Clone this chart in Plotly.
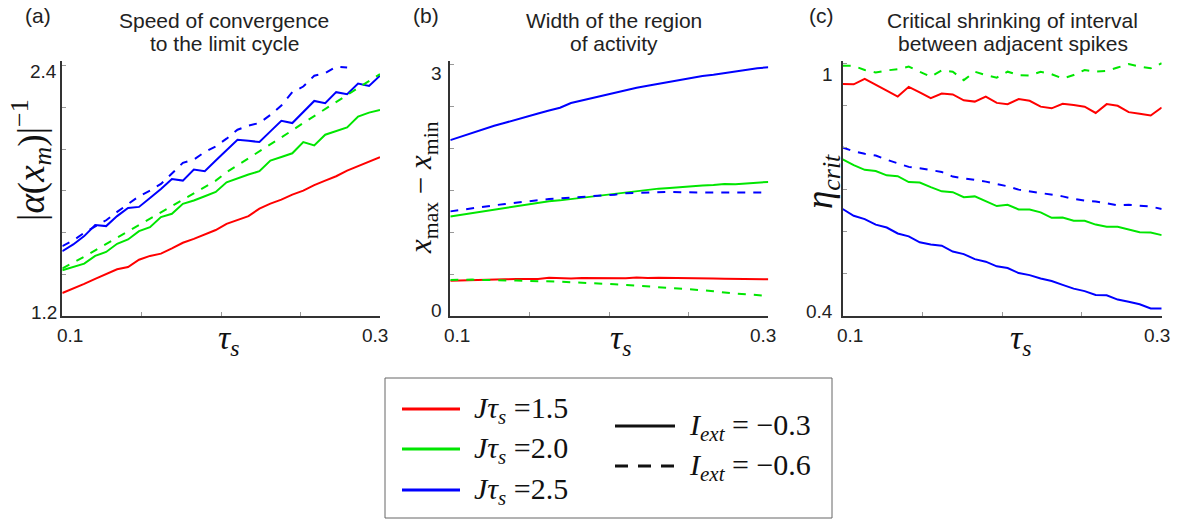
import plotly.graph_objects as go

W, H = 1178, 519

# ---------------- data ----------------
tau_s = [0.1000, 0.1069, 0.1138, 0.1207, 0.1276, 0.1345, 0.1414, 0.1483, 0.1552, 0.1621,
         0.1690, 0.1759, 0.1828, 0.1897, 0.1966, 0.2034, 0.2103, 0.2172, 0.2241, 0.2310,
         0.2379, 0.2448, 0.2517, 0.2586, 0.2655, 0.2724, 0.2793, 0.2862, 0.2931, 0.3000]

# (a) speed of convergence |alpha(x_m)|^-1
a_red_solid = [1.310, 1.331, 1.354, 1.378, 1.402, 1.424, 1.435, 1.470, 1.488, 1.499,
               1.524, 1.551, 1.570, 1.591, 1.612, 1.642, 1.661, 1.679, 1.715, 1.739,
               1.758, 1.782, 1.801, 1.827, 1.849, 1.870, 1.897, 1.918, 1.941, 1.961]
a_green_solid = [1.419, 1.435, 1.451, 1.488, 1.507, 1.546, 1.567, 1.607, 1.626, 1.674,
                 1.690, 1.738, 1.754, 1.774, 1.795, 1.841, 1.860, 1.878, 1.894, 1.945,
                 1.962, 1.980, 2.034, 2.018, 2.069, 2.088, 2.104, 2.156, 2.175, 2.188]
a_green_dash = [1.428, 1.454, 1.484, 1.515, 1.545, 1.575, 1.605, 1.636, 1.668, 1.698,
                1.728, 1.757, 1.789, 1.819, 1.849, 1.889, 1.922, 1.956, 1.989, 2.024,
                2.058, 2.090, 2.125, 2.158, 2.192, 2.225, 2.258, 2.292, 2.327, 2.360]
a_blue_solid = [1.511, 1.543, 1.583, 1.636, 1.631, 1.679, 1.718, 1.723, 1.766, 1.809,
                1.857, 1.849, 1.902, 1.894, 1.945, 1.994, 2.045, 2.040, 2.034, 2.085,
                2.136, 2.125, 2.180, 2.231, 2.220, 2.273, 2.263, 2.314, 2.303, 2.352]
a_blue_dash = [1.535, 1.562, 1.599, 1.631, 1.659, 1.699, 1.738, 1.774, 1.801, 1.833,
               1.883, 1.934, 1.950, 1.986, 2.013, 2.050, 2.093, 2.113, 2.125, 2.164,
               2.209, 2.273, 2.300, 2.352, 2.364, 2.395, 2.391, None, None, None]

# (b) width of the region of activity x_max - x_min
b_red_solid = [0.420, 0.425, 0.430, 0.432, 0.435, 0.437, 0.440, 0.442, 0.442, 0.455,
               0.450, 0.447, 0.452, 0.450, 0.455, 0.452, 0.449, 0.460, 0.452, 0.455,
               0.455, 0.448, 0.447, 0.452, 0.448, 0.444, 0.442, 0.438, 0.438, 0.438]
b_green_solid = [1.187, 1.207, 1.227, 1.247, 1.267, 1.287, 1.307, 1.327, 1.347, 1.367,
                 1.378, 1.394, 1.410, 1.426, 1.442, 1.458, 1.474, 1.494, 1.506, 1.518,
                 1.526, 1.538, 1.546, 1.554, 1.562, 1.574, 1.570, 1.578, 1.590, 1.598]
b_green_dash = [0.430, 0.434, 0.434, 0.430, 0.430, 0.426, 0.422, 0.418, 0.418, 0.414,
                0.410, 0.402, 0.398, 0.390, 0.386, 0.378, 0.371, 0.363, 0.355, 0.347,
                0.335, 0.323, 0.315, 0.307, 0.295, 0.279, 0.267, 0.259, 0.251, 0.239]
b_blue_solid = [2.096, 2.139, 2.183, 2.227, 2.267, 2.303, 2.343, 2.378, 2.414, 2.450,
                2.482, 2.538, 2.570, 2.602, 2.629, 2.661, 2.689, 2.721, 2.745, 2.769,
                2.793, 2.813, 2.841, 2.861, 2.876, 2.896, 2.920, 2.932, 2.952, 2.964]
b_blue_dash = [1.247, 1.267, 1.287, 1.303, 1.319, 1.335, 1.351, 1.367, 1.382, 1.394,
               1.402, 1.410, 1.418, 1.430, 1.442, 1.446, 1.462, 1.466, 1.466, 1.478,
               1.478, 1.474, 1.474, 1.470, 1.478, 1.474, 1.474, 1.474, 1.474, 1.470]

# (c) critical shrinking eta_crit
c_red_solid = [0.951, 0.950, 0.963, 0.948, 0.935, 0.921, 0.944, 0.931, 0.917, 0.928,
               0.926, 0.912, 0.909, 0.921, 0.906, 0.903, 0.915, 0.911, 0.897, 0.893,
               0.904, 0.901, 0.897, 0.882, 0.903, 0.899, 0.884, 0.880, 0.876, 0.895]
c_green_solid = [0.772, 0.758, 0.747, 0.744, 0.734, 0.732, 0.718, 0.717, 0.706, 0.696,
                 0.694, 0.682, 0.684, 0.673, 0.661, 0.664, 0.653, 0.653, 0.646, 0.633,
                 0.634, 0.626, 0.626, 0.617, 0.612, 0.612, 0.605, 0.599, 0.598, 0.592]
c_green_dash = [0.994, 0.994, 0.984, 0.978, 0.983, 0.986, 0.992, 0.980, 0.968, 0.983,
                0.980, 0.960, 0.980, 0.972, 0.966, 0.980, 0.972, 0.971, 0.980, 0.974,
                0.964, 0.972, 0.984, 0.980, 0.982, 0.990, 0.998, 0.992, 0.988, 1.000]
c_blue_solid = [0.654, 0.638, 0.630, 0.617, 0.610, 0.596, 0.589, 0.575, 0.570, 0.567,
                0.553, 0.547, 0.535, 0.529, 0.518, 0.514, 0.502, 0.497, 0.489, 0.483,
                0.474, 0.465, 0.459, 0.450, 0.449, 0.439, 0.434, 0.428, 0.418, 0.418]
c_blue_dash = [0.800, 0.791, 0.785, 0.781, 0.771, 0.762, 0.754, 0.751, 0.747, 0.742,
               0.731, 0.727, 0.723, 0.719, 0.713, 0.708, 0.700, 0.696, 0.691, 0.687,
               0.684, 0.678, 0.674, 0.672, 0.668, 0.663, 0.664, 0.662, 0.660, 0.654]

x_ticks = [0.1, 0.15, 0.2, 0.25, 0.3]
a_yticks = [1.2, 1.4, 1.6, 1.8, 2.0, 2.2, 2.4]
b_yticks = [0, 0.5, 1.0, 1.5, 2.0, 2.5, 3.0]
c_yticks = [0.4, 0.5, 0.6, 0.7, 0.8, 0.9, 1.0]

legend_J = ["1.5", "2.0", "2.5"]
legend_I = ["−0.3", "−0.6"]

RED = "rgb(255,0,0)"
GREEN = "rgb(0,230,0)"
BLUE = "rgb(0,0,255)"
DASH = "8px,8px"

SANS = "Liberation Sans, Arial, sans-serif"
SERIF = "Liberation Serif, Times New Roman, serif"
TXT = "#222"

fig = go.Figure()

panels = [
    ("x", "y", [(a_red_solid, RED, "solid"), (a_green_solid, GREEN, "solid"), (a_blue_solid, BLUE, "solid"),
                (a_green_dash, GREEN, DASH), (a_blue_dash, BLUE, DASH)]),
    ("x2", "y2", [(b_red_solid, RED, "solid"), (b_green_solid, GREEN, "solid"), (b_blue_solid, BLUE, "solid"),
                  (b_green_dash, GREEN, DASH), (b_blue_dash, BLUE, DASH)]),
    ("x3", "y3", [(c_red_solid, RED, "solid"), (c_green_solid, GREEN, "solid"), (c_blue_solid, BLUE, "solid"),
                  (c_green_dash, GREEN, DASH), (c_blue_dash, BLUE, DASH)]),
]
for xa, ya, series in panels:
    for vals, col, dash in series:
        fig.add_trace(go.Scatter(x=tau_s, y=vals, mode="lines", xaxis=xa, yaxis=ya,
                                 line=dict(color=col, width=2, dash=dash),
                                 connectgaps=False, showlegend=False, hoverinfo="skip"))

TOP, BOT = 61, 316
ydom = [1 - BOT / H, 1 - TOP / H]


def xax(l, r, anchor):
    return dict(domain=[l / W, r / W], range=[0.1, 0.3], anchor=anchor,
                showline=True, linecolor="#333", linewidth=2, mirror=False,
                ticks="inside", ticklen=4, tickwidth=1, tickcolor="#999",
                tickvals=x_ticks, showticklabels=False, showgrid=False, zeroline=False)


def yax(rng, tv, anchor):
    return dict(domain=ydom, range=rng, anchor=anchor,
                showline=True, linecolor="#333", linewidth=2, mirror=False,
                ticks="inside", ticklen=4, tickwidth=1, tickcolor="#999",
                tickvals=tv, showticklabels=False, showgrid=False, zeroline=False)


fig.update_layout(
    width=W, height=H, margin=dict(l=0, r=0, t=0, b=0),
    paper_bgcolor="white", plot_bgcolor="white", showlegend=False,
    xaxis=xax(62.3, 380, "y"), yaxis=yax([1.2, 2.4224], a_yticks, "x"),
    xaxis2=xax(450.3, 768.3, "y2"), yaxis2=yax([0, 3.039], b_yticks, "x2"),
    xaxis3=xax(842.7, 1161.7, "y3"), yaxis3=yax([0.4, 1.0054], c_yticks, "x3"),
)


def ann(text, px, py, size, family=SANS, xanchor="center", yanchor="middle", angle=0, color=TXT):
    fig.add_annotation(text=text, x=px / W, y=1 - py / H, xref="paper", yref="paper",
                       showarrow=False, xanchor=xanchor, yanchor=yanchor, textangle=angle,
                       font=dict(size=size, family=family, color=color), borderpad=0)


# tick labels
TL = 19
for txt, rx, cy in [("2.4", 58, 72), ("1.2", 58, 312), ("3", 443, 73.5), ("0", 443, 310),
                    ("1", 834, 75), ("0.4", 834, 311.5)]:
    ann(txt, rx, cy, TL, xanchor="right")
for txt, cx in [("0.1", 70), ("0.3", 375), ("0.1", 457.5), ("0.3", 762.5), ("0.1", 850), ("0.3", 1156.7)]:
    ann(txt, cx, 335, TL)

# panel letters
for txt, cx in [("(a)", 37.5), ("(b)", 426), ("(c)", 821)]:
    ann(txt, cx, 15, 21)

# titles
TT = 21
ann("Speed of convergence", 224, 20.5, TT)
ann("to the limit cycle", 224, 43.5, TT)
ann("Width of the region", 614, 20.5, TT)
ann("of activity", 614, 43.5, TT)
ann("Critical shrinking of interval", 1012.5, 20.5, TT)
ann("between adjacent spikes", 1012.5, 43.5, TT)

# axis titles
tau_lbl = "<i>τ</i><sub><i>s</i></sub>"
for cx in [228, 620, 1020]:
    ann(tau_lbl, cx, 340, 34, family=SERIF, color="#111")
ann("|<i>α</i>(<i>x</i><sub><i>m</i></sub>)|<sup>−1</sup>", 31, 160, 37, family=SERIF, angle=-90, color="#111")
ann("<i>x</i><sub>max</sub> − <i>x</i><sub>min</sub>", 423, 188, 31, family=SERIF, angle=-90, color="#111")
ann("<i>η</i><sub><i>crit</i></sub>", 822, 182, 37, family=SERIF, angle=-90, color="#111")

# legend (key box)
fig.add_shape(type="rect", xref="paper", yref="paper", x0=385 / W, x1=832 / W,
              y0=1 - 518 / H, y1=1 - 378 / H, line=dict(color="#666", width=1), fillcolor="rgba(0,0,0,0)")
for (val, col), py in zip(zip(legend_J, [RED, GREEN, BLUE]), [409, 449, 490]):
    fig.add_shape(type="line", xref="paper", yref="paper", x0=402 / W, x1=460 / W,
                  y0=1 - py / H, y1=1 - py / H, line=dict(color=col, width=3))
    ann("<i>Jτ</i><sub><i>s</i></sub> =" + val, 473, py + 1, 30, family=SERIF, xanchor="left", color="#111")
for (val, dash), py in zip(zip(legend_I, ["solid", "13px,10px"]), [426, 466]):
    fig.add_shape(type="line", xref="paper", yref="paper", x0=615 / W, x1=675 / W,
                  y0=1 - py / H, y1=1 - py / H, line=dict(color="#111", width=3, dash=dash))
    ann("<i>I</i><sub><i>ext</i></sub> = " + val, 688, py + 1, 30, family=SERIF, xanchor="left", color="#111")

fig.write_html("out.html", config={"displayModeBar": False, "staticPlot": True},
               post_script="document.body.style.margin='0px';")
